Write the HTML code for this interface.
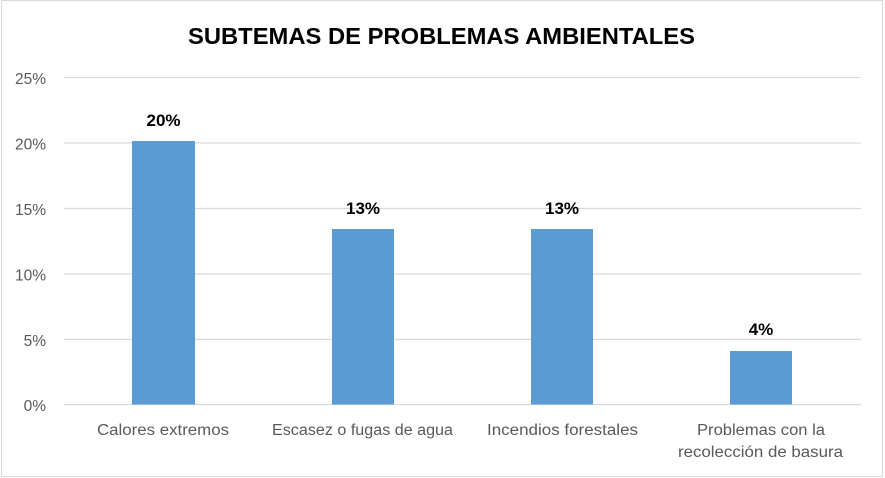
<!DOCTYPE html>
<html><head><meta charset="utf-8"><style>
html,body{margin:0;padding:0;background:#fff;}
svg{display:block;}
text{font-family:"Liberation Sans",sans-serif;}
</style></head><body>
<svg width="885" height="478" viewBox="0 0 885 478" xmlns="http://www.w3.org/2000/svg">
<rect x="0" y="0" width="885" height="478" fill="#fff"/>
<rect x="1.5" y="0.5" width="881" height="476" fill="none" stroke="#d9d9d9" stroke-width="1"/>
<text x="441.5" y="44" text-anchor="middle" font-size="23" font-weight="bold" fill="#000" textLength="507" lengthAdjust="spacingAndGlyphs">SUBTEMAS DE PROBLEMAS AMBIENTALES</text>
<g stroke="#d9d9d9" stroke-width="1.2">
<line x1="64" y1="77.5" x2="861" y2="77.5"/>
<line x1="64" y1="143" x2="861" y2="143"/>
<line x1="64" y1="208.5" x2="861" y2="208.5"/>
<line x1="64" y1="274" x2="861" y2="274"/>
<line x1="64" y1="339.5" x2="861" y2="339.5"/>
<line x1="64" y1="404.5" x2="861" y2="404.5"/>
</g>
<g font-size="15.5" fill="#595959" text-anchor="end">
<text x="46" y="84">25%</text>
<text x="46" y="149.5">20%</text>
<text x="46" y="215">15%</text>
<text x="46" y="280.5">10%</text>
<text x="46" y="346">5%</text>
<text x="46" y="411">0%</text>
</g>
<g fill="#5B9BD5">
<rect x="132" y="141" width="63" height="263.5"/>
<rect x="332" y="229" width="62" height="175.5"/>
<rect x="531" y="229" width="62" height="175.5"/>
<rect x="730" y="351" width="62" height="53.5"/>
</g>
<g font-size="17" font-weight="bold" fill="#000" text-anchor="middle">
<text x="163.5" y="126">20%</text>
<text x="363" y="214">13%</text>
<text x="562" y="214">13%</text>
<text x="761" y="335">4%</text>
</g>
<g font-size="15.5" fill="#595959" text-anchor="middle">
<text x="163" y="435" textLength="132" lengthAdjust="spacingAndGlyphs">Calores extremos</text>
<text x="362.5" y="435" textLength="181" lengthAdjust="spacingAndGlyphs">Escasez o fugas de agua</text>
<text x="562.5" y="435" textLength="151" lengthAdjust="spacingAndGlyphs">Incendios forestales</text>
<text x="761" y="435" textLength="128" lengthAdjust="spacingAndGlyphs">Problemas con la</text>
<text x="760.5" y="457" textLength="165" lengthAdjust="spacingAndGlyphs">recolección de basura</text>
</g>
</svg>
</body></html>
